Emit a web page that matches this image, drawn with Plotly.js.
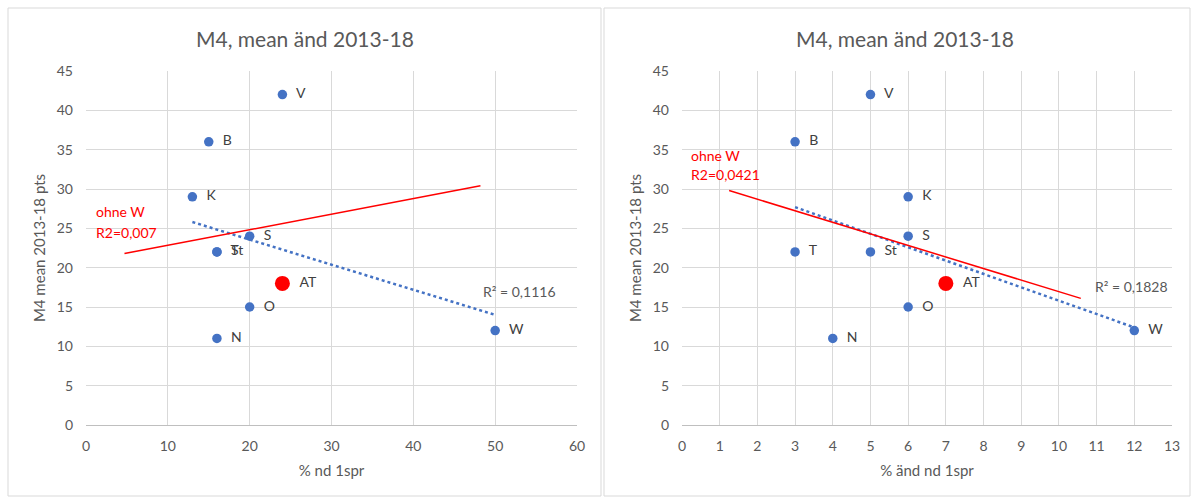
<!DOCTYPE html>
<html>
<head>
<meta charset="utf-8">
<script src="https://cdn.plot.ly/plotly-3.0.1.min.js"></script>
<style>html,body{margin:0;padding:0;background:#fff;}#chart{width:1195px;height:498px;}</style>
</head>
<body>
<div id="chart"></div>
<script>
// ---- data ----
const regions = ['V','B','K','S','T','St','O','N','W'];
const pctNd = [24,15,13,20,16,16,20,16,50];          // left chart x
const pctAendNd = [5,3,6,6,3,5,6,4,12];             // right chart x
const m4Mean = [42,36,29,24,22,22,15,11,12];        // y (both)
const atLabel = ['AT'];
const atPctNd = [24];
const atPctAendNd = [7];
const atM4 = [18];
// trendline (all regions) endpoints
const trendLeftX = [13,50], trendLeftY = [25.8,14.0];
const trendRightX = [3,12], trendRightY = [27.7,12.4];
// "ohne W" lines endpoints
const ohneLeftX = [4.7,48.2], ohneLeftY = [21.8,30.4];
const ohneRightX = [1.25,10.58], ohneRightY = [29.8,16.1];
const titleText = 'M4, mean änd 2013-18';
const yTitle = 'M4 mean 2013-18 pts';
const xTitleLeft = '% nd 1spr';
const xTitleRight = '% änd nd 1spr';
const r2Left = 'R² = 0,1116', r2Right = 'R² = 0,1828';
const ohneLabel = 'ohne W';
const ohneLeftR2 = 'R2=0,007', ohneRightR2 = 'R2=0,0421';

const FONT = 'Lato, "Open Sans", sans-serif';
const BLUE = '#4472C4', RED = '#FF0000', GRID = '#d9d9d9', TXT = '#595959';
const pad = s => '  ' + s;

function series(xs, xa, ya, atX, trX, trY, ohX, ohY) {
  return [
    {x: trX, y: trY, xaxis: xa, yaxis: ya, mode: 'lines', line: {color: BLUE, width: 2.5, dash: 'dot'}, hoverinfo: 'skip'},
    {x: ohX, y: ohY, xaxis: xa, yaxis: ya, mode: 'lines', line: {color: RED, width: 1.5}, hoverinfo: 'skip'},
    {x: xs, y: m4Mean, xaxis: xa, yaxis: ya, mode: 'markers+text', text: regions.map(pad), textposition: 'middle right',
     textfont: {family: FONT, size: 14, color: '#404040'}, marker: {color: BLUE, size: 9.5}, cliponaxis: false},
    {x: atX, y: atM4, xaxis: xa, yaxis: ya, mode: 'markers+text', text: atLabel.map(pad), textposition: 'middle right',
     textfont: {family: FONT, size: 14, color: '#404040'}, marker: {color: RED, size: 15}, cliponaxis: false}
  ];
}

const data = [].concat(
  series(pctNd, 'x', 'y', atPctNd, trendLeftX, trendLeftY, ohneLeftX, ohneLeftY),
  series(pctAendNd, 'x2', 'y2', atPctAendNd, trendRightX, trendRightY, ohneRightX, ohneRightY)
);

const yDom = [1 - 425/498, 1 - 71/498];
function xax(dom, range, dtick, title) {
  return {domain: dom, range: range, dtick: dtick, tick0: 0, showgrid: true, gridcolor: GRID, gridwidth: 1,
    zeroline: false, showline: true, linecolor: '#bfbfbf', linewidth: 1, ticks: '', fixedrange: true,
    ticklabelstandoff: 8,
    tickfont: {family: FONT, size: 14, color: TXT},
    title: {text: title, font: {family: FONT, size: 15, color: TXT}, standoff: 12}};
}
function yax(anchor, title) {
  return {domain: yDom, range: [0, 45], dtick: 5, anchor: anchor, showgrid: true, gridcolor: GRID, gridwidth: 1,
    zeroline: false, showline: false, ticks: '', fixedrange: true,
    ticklabelstandoff: 12,
    tickfont: {family: FONT, size: 14, color: TXT},
    title: {text: title, font: {family: FONT, size: 15, color: TXT}, standoff: 7}};
}

function txt(x, y, t, color, size, anchor) {
  return {xref: 'paper', yref: 'paper', x: x/1195, y: 1 - y/498, xanchor: anchor || 'left', yanchor: 'middle',
    text: t, showarrow: false, font: {family: FONT, size: size, color: color}};
}

const layout = {
  width: 1195, height: 498, autosize: false,
  margin: {l: 0, r: 0, t: 0, b: 0},
  paper_bgcolor: '#fff', plot_bgcolor: '#fff', showlegend: false,
  xaxis: xax([86/1195, 577/1195], [0, 60], 10, xTitleLeft),
  yaxis: yax('x', yTitle),
  xaxis2: xax([682/1195, 1172/1195], [0, 13], 1, xTitleRight),
  yaxis2: yax('x2', yTitle),
  shapes: [
    {type: 'rect', xref: 'paper', yref: 'paper', x0: 8/1195, x1: 601/1195, y0: 1 - 496/498, y1: 1 - 8/498, line: {color: '#d9d9d9', width: 1}},
    {type: 'rect', xref: 'paper', yref: 'paper', x0: 604/1195, x1: 1190/1195, y0: 1 - 496/498, y1: 1 - 8/498, line: {color: '#d9d9d9', width: 1}}
  ],
  annotations: [
    txt(305, 38, titleText, TXT, 21, 'center'),
    txt(905, 38, titleText, TXT, 21, 'center'),
    txt(94, 212, ohneLabel, RED, 14),
    txt(94, 232, ohneLeftR2, RED, 14),
    txt(689, 155, ohneLabel, RED, 14),
    txt(689, 174, ohneRightR2, RED, 14),
    txt(481, 291, r2Left, TXT, 14),
    txt(1093, 286, r2Right, TXT, 14)
  ]
};

Plotly.newPlot('chart', data, layout, {displayModeBar: false, staticPlot: true});
</script>
</body>
</html>
